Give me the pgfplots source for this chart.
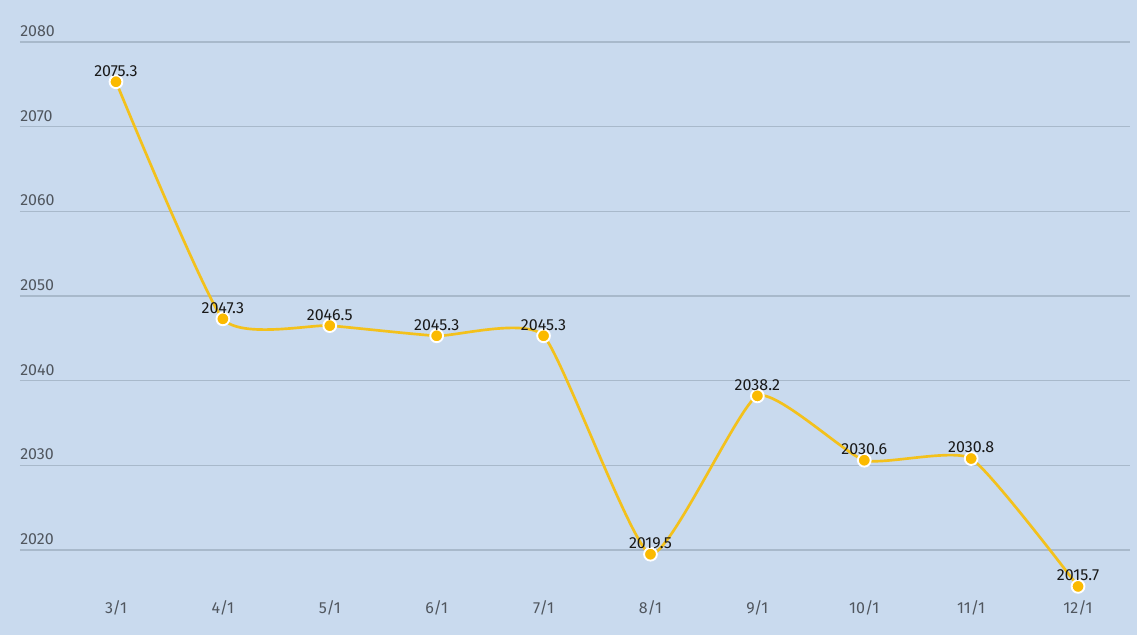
\documentclass[border=0pt]{standalone}
\usepackage{pgfplots}
\pgfplotsset{compat=1.18}
\usepackage{fontspec}
\setmainfont{Fira Sans}
\definecolor{bg}{HTML}{C9DAEE}
\definecolor{gridc}{HTML}{A8B9CB}
\definecolor{linec}{HTML}{F3C11C}
\definecolor{markc}{HTML}{FBBA00}
\definecolor{tickc}{HTML}{50565E}
\begin{document}
\begin{tikzpicture}
\fill[bg] (-15pt,0) rectangle (837.75pt,476.25pt);
\useasboundingbox (-15pt,0) rectangle (837.75pt,476.25pt);
\begin{axis}[
  at={(0,0)}, anchor=south west,
  scale only axis, width=832.5pt, height=476.25pt,
  xmin=-0.898, xmax=9.486,
  ymin=2009.96, ymax=2084.96,
  axis line style={draw=none},
  major tick length=0pt,
  ymajorgrids, grid style={gridc, line width=0.8pt},
  ytick={2020,2030,2040,2050,2060,2070,2080},
  yticklabels={2020,2030,2040,2050,2060,2070,2080},
  xtick={0,...,9},
  xticklabels={3/1,4/1,5/1,6/1,7/1,8/1,9/1,10/1,11/1,12/1},
  /pgf/number format/assume math mode=true,
  y tick label style={anchor=base west, inner sep=0pt, yshift=4pt, font=\fontsize{12}{14}\selectfont, text=tickc},
  x tick label style={anchor=center, yshift=20pt, font=\fontsize{12}{14}\selectfont, text=tickc},
  clip=false,
  nodes near coords,
  every node near coord/.append style={anchor=south, yshift=0pt, font=\fontsize{12}{14}\selectfont, text=black!90,
    /pgf/number format/.cd, fixed, fixed zerofill, precision=1, 1000 sep={}},
]
\addplot[color=linec, line width=2pt, smooth, tension=0.3,
  mark=*, mark size=4.8pt, mark options={fill=markc, draw=white, line width=1.4pt}]
coordinates {
(0,2075.3) (1,2047.3) (2,2046.5) (3,2045.3) (4,2045.3)
(5,2019.5) (6,2038.2) (7,2030.6) (8,2030.8) (9,2015.7)
};
\end{axis}
\end{tikzpicture}
\end{document}
